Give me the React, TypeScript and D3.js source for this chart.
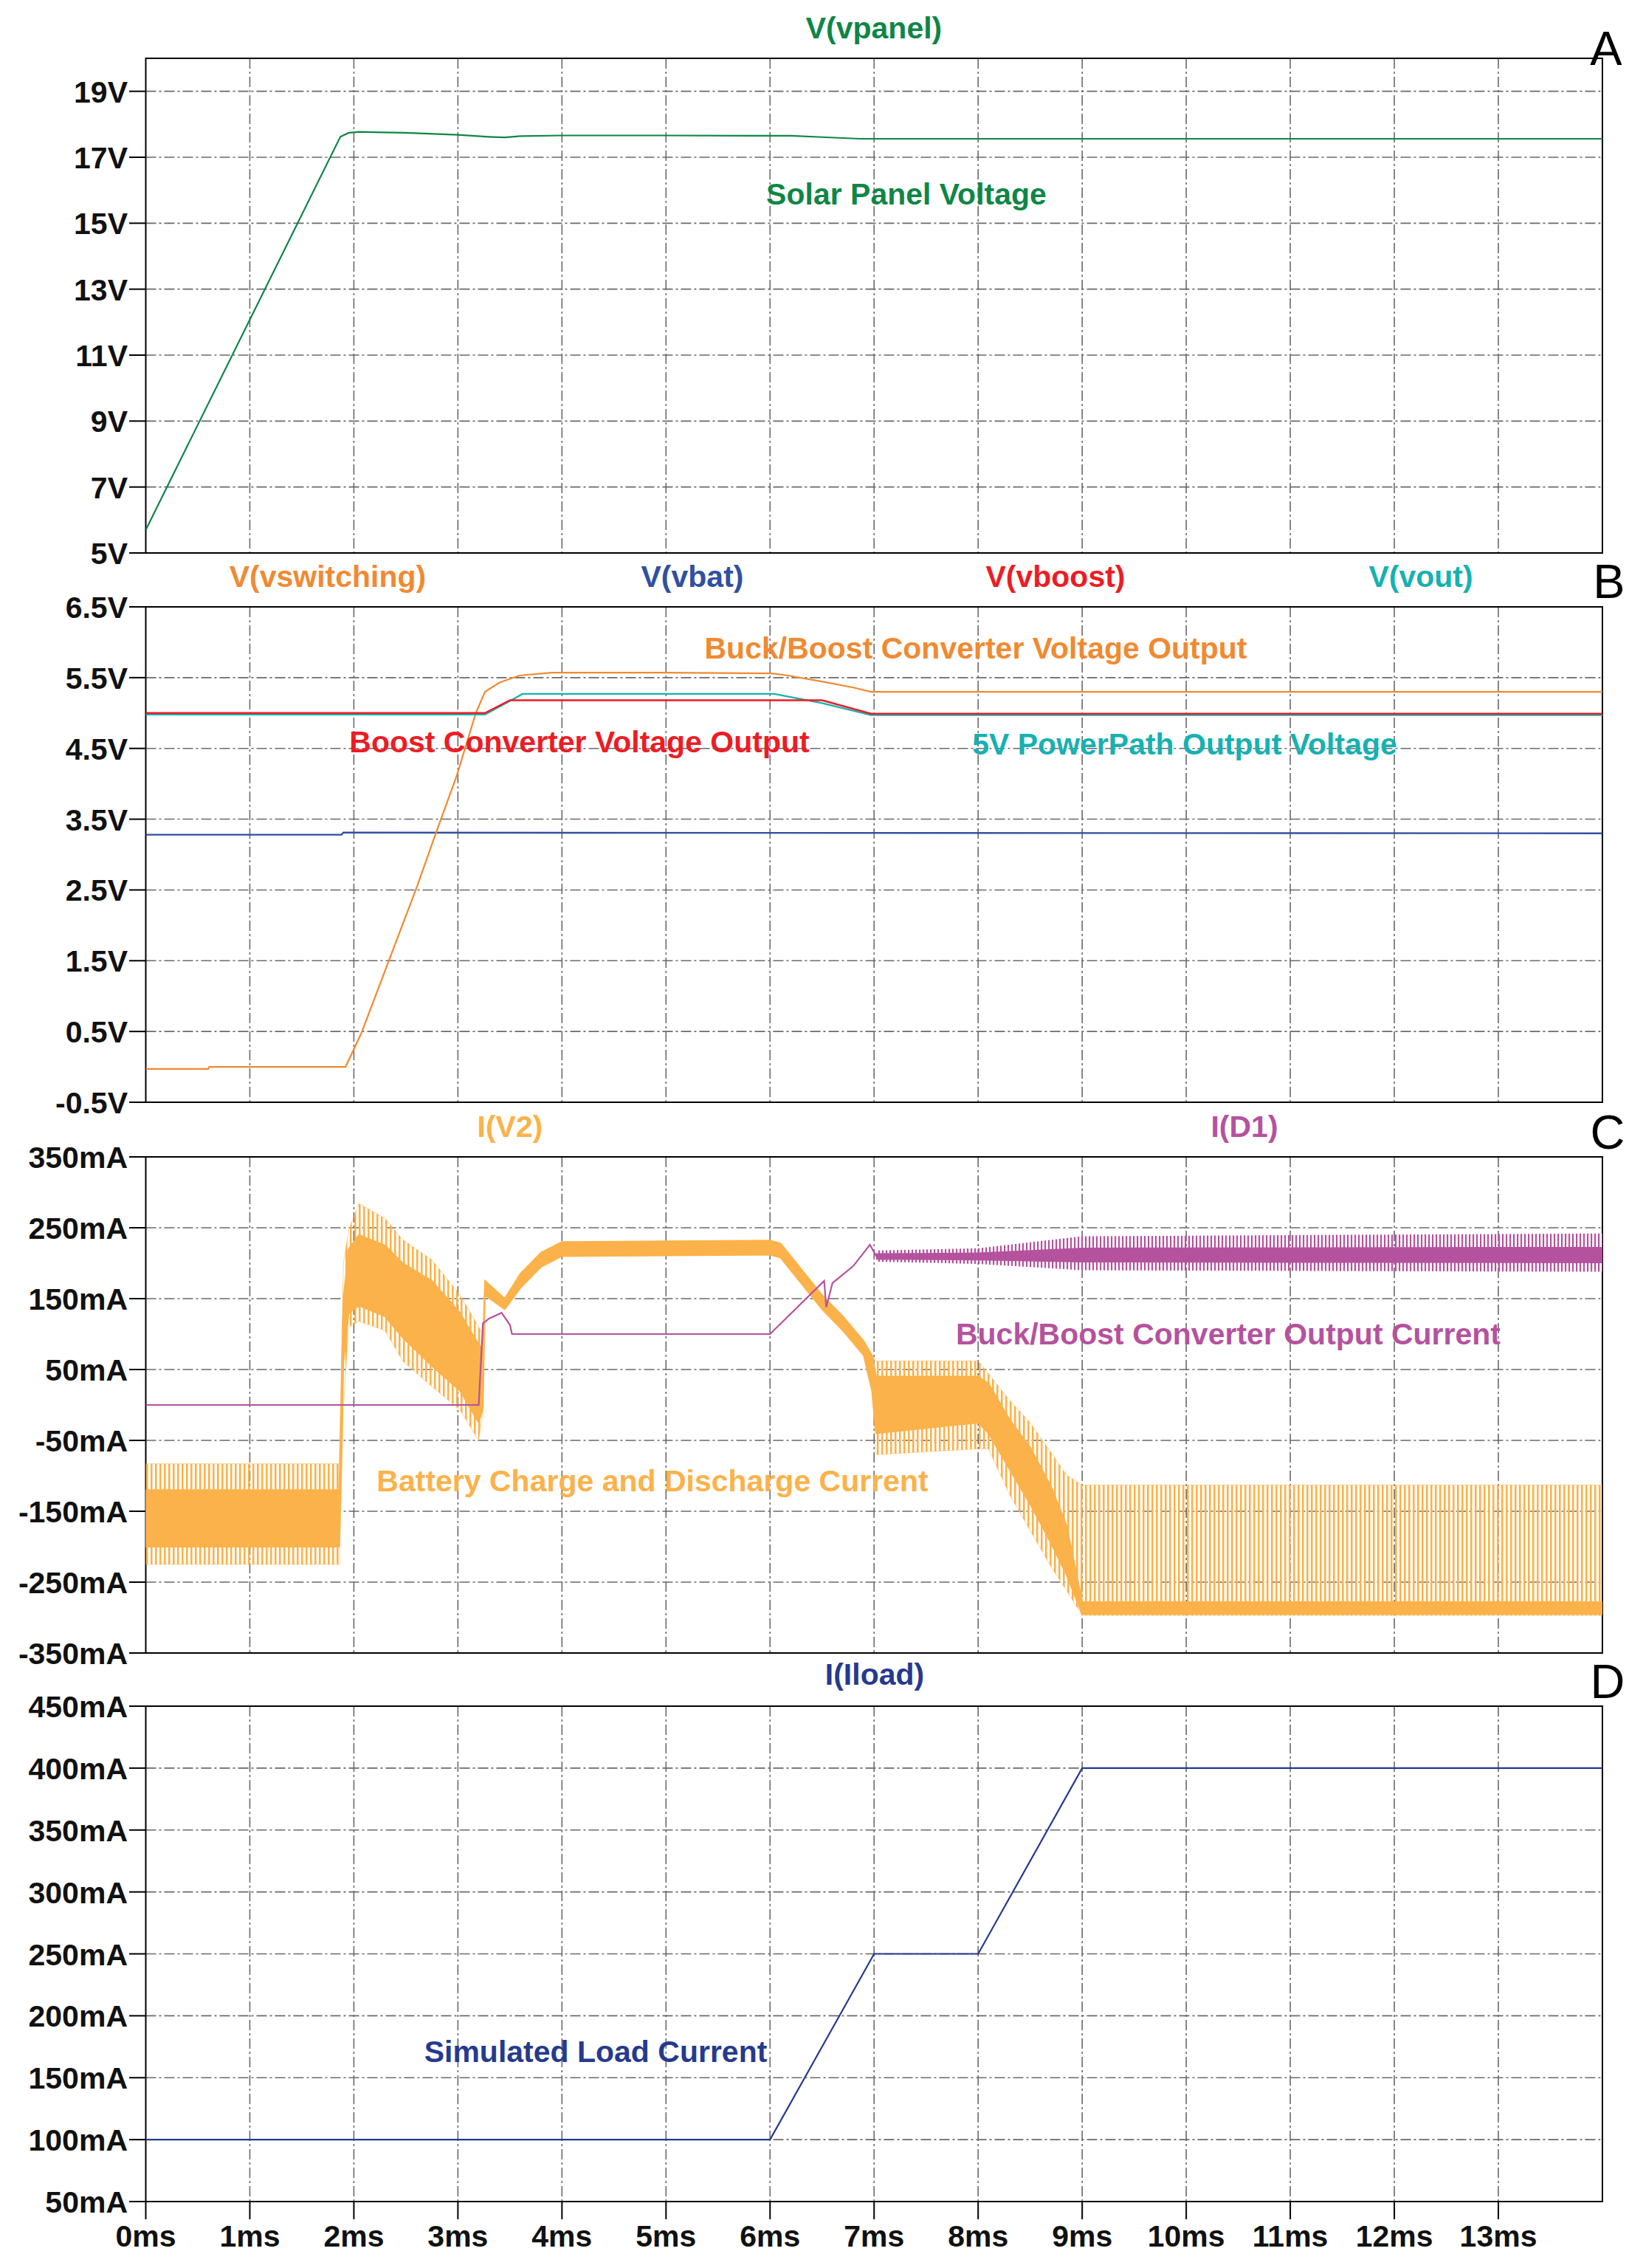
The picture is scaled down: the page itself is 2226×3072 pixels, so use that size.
import React, { useEffect } from 'react';
import * as d3 from 'd3';

// time axis (ms)
const msTicks = [0, 1, 2, 3, 4, 5, 6, 7, 8, 9, 10, 11, 12, 13];

// y ticks for each pane
const ticksA = [5, 7, 9, 11, 13, 15, 17, 19];
const ticksB = [-0.5, 0.5, 1.5, 2.5, 3.5, 4.5, 5.5, 6.5];
const ticksC = [-350, -250, -150, -50, 50, 150, 250, 350];
const ticksD = [50, 100, 150, 200, 250, 300, 350, 400, 450];

// A: V(vpanel)
const vpanelT = [0, 1.87, 1.95, 2.05, 2.5, 3.0, 3.3, 3.45, 3.6, 4.0, 5.0, 6.2, 6.5, 6.87, 14];
const vpanelV = [5.7, 17.62, 17.74, 17.77, 17.74, 17.68, 17.62, 17.6, 17.64, 17.66, 17.66, 17.65, 17.61, 17.56, 17.56];

// B: voltages
const vswT = [0, 0.6, 0.61, 1.92, 2.07, 2.61, 2.79, 2.99, 3.17, 3.26, 3.4, 3.59, 3.9, 5.0, 6.02, 6.17, 6.48, 6.8, 6.97, 14];
const vswV = [-0.03, -0.03, 0, 0, 0.47, 2.56, 3.31, 4.12, 4.99, 5.3, 5.43, 5.53, 5.57, 5.57, 5.56, 5.53, 5.45, 5.36, 5.3, 5.3];
const vbatT = [0, 1.88, 1.9, 14];
const vbatV = [3.28, 3.28, 3.31, 3.3];
const vboostT = [0, 3.26, 3.5, 6.5, 6.97, 14];
const vboostV = [5.0, 5.0, 5.18, 5.18, 4.99, 4.99];
const voutT = [0, 3.26, 3.5, 3.62, 6.04, 6.5, 6.97, 14];
const voutV = [4.98, 4.98, 5.17, 5.27, 5.27, 5.14, 4.97, 4.97];

// C: I(V2) battery current envelope and dense core (mA)
const iv2T = [0, 1.86, 1.9, 1.95, 2.05, 2.3, 2.47, 2.75, 3.02, 3.2, 3.24, 3.26, 3.45, 3.6, 3.8, 4.0, 6.0, 6.1, 6.5, 6.7, 6.9, 6.98, 7.02, 8.0, 8.1, 8.3, 8.5, 8.7, 8.85, 9.0, 14];
const iv2Hi = [-83, -83, 200, 247, 284, 263, 233, 205, 155, 110, 100, 175, 150, 185, 215, 230, 232, 228, 155, 125, 90, 70, 62, 62, 44, 7, -25, -67, -99, -113, -113];
const iv2Lo = [-225, -225, 0, 110, 118, 105, 62, 26, -7, -50, -10, 155, 135, 165, 195, 210, 212, 208, 135, 105, 70, 20, -70, -62, -62, -126, -177, -228, -262, -297, -297];
const iv2CoreHi = [-120, -120, 150, 220, 240, 225, 200, 175, 130, 85, 80, 175, 150, 185, 215, 230, 232, 228, 155, 125, 90, 70, 40, 40, 30, -20, -60, -115, -170, -278, -278];
const iv2CoreLo = [-200, -200, 60, 130, 140, 125, 95, 55, 20, -25, -5, 155, 135, 165, 195, 210, 212, 208, 135, 105, 70, 20, -40, -25, -40, -90, -140, -195, -240, -295, -295];

// C: I(D1) buck/boost output current (mA)
const id1T = [0, 3.2, 3.24, 3.3, 3.42, 3.5, 3.52, 6.0, 6.52, 6.54, 6.6, 6.8, 6.96, 7.02, 8.0, 9.0, 14];
const id1V = [0, 0, 115, 122, 130, 113, 100, 100, 175, 138, 172, 196, 226, 210, 210, 213, 213];
const id1BandT = [7.02, 8.0, 9.0, 14];
const id1BandHi = [218, 221, 238, 242];
const id1BandLo = [202, 199, 190, 188];
const id1CoreHi = [214, 215, 222, 223];
const id1CoreLo = [205, 204, 201, 200];

// D: I(Iload) (mA)
const iloadT = [0, 6, 7, 8, 9, 14];
const iloadV = [100, 100, 250, 250, 400, 400];

const FONT = '"Liberation Sans", Arial, Helvetica, sans-serif';
const GREEN = '#0f8646';
const ORANGE = '#f08a32';
const BLUE = '#3050a0';
const RED = '#ed1c24';
const TEAL = '#17b1b1';
const AMBER = '#fbb24a';
const MAGENTA = '#b5529e';
const NAVY = '#253a8e';
const GRID = '#6a6a6a';

const W = 2226;
const H = 3072;
const x = d3.scaleLinear().domain([0, 14]).range([197.5, 2171]);

type Pane = {
  id: string;
  top: number;
  bottom: number;
  domain: [number, number];
  ticks: number[];
  fmt: (v: number) => string;
  letter: string;
  letterY: number;
  letterX: number;
};

const panes: Pane[] = [
  { id: 'A', top: 79, bottom: 749, domain: [5, 20], ticks: ticksA, fmt: v => `${v}V`, letter: 'A', letterY: 88, letterX: 2176 },
  { id: 'B', top: 822, bottom: 1493, domain: [-0.5, 6.5], ticks: ticksB, fmt: v => `${v}V`, letter: 'B', letterY: 810, letterX: 2180 },
  { id: 'C', top: 1567, bottom: 2239, domain: [-350, 350], ticks: ticksC, fmt: v => `${v}mA`, letter: 'C', letterY: 1556, letterX: 2178 },
  { id: 'D', top: 2311, bottom: 2982, domain: [50, 450], ticks: ticksD, fmt: v => `${v}mA`, letter: 'D', letterY: 2300, letterX: 2178 },
];

const yOf = (p: Pane) => d3.scaleLinear().domain(p.domain).range([p.bottom, p.top]);

const linePath = (t: number[], v: number[], y: d3.ScaleLinear<number, number>) =>
  d3.line<number>().x((_, i) => x(t[i])).y(d => y(d))(v) || '';

const bandPath = (t: number[], hi: number[], lo: number[], y: d3.ScaleLinear<number, number>) =>
  d3.area<number>().x((_, i) => x(t[i])).y1(d => y(d)).y0((_, i) => y(lo[i]))(hi) || '';

const Label: React.FC<{ x: number; y: number; color: string; text: string; anchor?: string; size?: number; weight?: string }> =
  ({ x, y, color, text, anchor = 'middle', size = 41, weight = 'bold' }) => (
    <text x={x} y={y} fill={color} textAnchor={anchor as any} fontFamily={FONT} fontSize={size} fontWeight={weight}>{text}</text>
  );

const Frame: React.FC<{ p: Pane }> = ({ p }) => {
  const y = yOf(p);
  const [x0, x1] = x.range();
  return (
    <g>
      {msTicks.filter(m => m > 0).map(m => (
        <line key={`v${m}`} x1={x(m)} x2={x(m)} y1={p.top} y2={p.bottom} stroke={GRID} strokeWidth={1.6} strokeDasharray="14 4 3 4" />
      ))}
      {p.ticks.filter(t => y(t) > p.top + 1 && y(t) < p.bottom - 1).map(t => (
        <line key={`h${t}`} x1={x0} x2={x1} y1={y(t)} y2={y(t)} stroke={GRID} strokeWidth={1.6} strokeDasharray="14 4 3 4" />
      ))}
      {p.ticks.map(t => (
        <g key={`t${t}`}>
          <line x1={175} x2={x0} y1={y(t)} y2={y(t)} stroke="#000" strokeWidth={2} />
          <Label x={173} y={y(t) + 15} color="#111" text={p.fmt(t)} anchor="end" />
        </g>
      ))}
      <rect x={x0} y={p.top} width={x1 - x0} height={p.bottom - p.top} fill="none" stroke="#000" strokeWidth={2} />
      <Label x={p.letterX} y={p.letterY} color="#000" text={p.letter} size={65} weight="normal" />
    </g>
  );
};

const App: React.FC = () => {
  useEffect(() => {
    document.body.style.margin = '0';
  }, []);

  const [pA, pB, pC, pD] = panes;
  const yA = yOf(pA);
  const yB = yOf(pB);
  const yC = yOf(pC);
  const yD = yOf(pD);
  const [x0, x1] = x.range();

  return (
    <svg width={W} height={H} viewBox={`0 0 ${W} ${H}`} style={{ display: 'block', background: '#fff' }}>
      <defs>
        {panes.map(p => (
          <clipPath key={p.id} id={`clip${p.id}`}>
            <rect x={x0} y={p.top} width={x1 - x0} height={p.bottom - p.top} />
          </clipPath>
        ))}
        <pattern id="stripeAmber" patternUnits="userSpaceOnUse" width={6} height={10}>
          <rect x={0} y={0} width={2.6} height={10} fill={AMBER} />
        </pattern>
        <pattern id="stripeMagenta" patternUnits="userSpaceOnUse" width={5} height={10}>
          <rect x={0} y={0} width={2.2} height={10} fill={MAGENTA} />
        </pattern>
      </defs>

      {panes.map(p => <Frame key={p.id} p={p} />)}

      {/* pane A */}
      <Label x={1184} y={52} color={GREEN} text="V(vpanel)" />
      <g clipPath="url(#clipA)">
        <path d={linePath(vpanelT, vpanelV, yA)} fill="none" stroke={GREEN} strokeWidth={2.2} />
      </g>
      <Label x={1228} y={277} color={GREEN} text="Solar Panel Voltage" />

      {/* pane B */}
      <Label x={444} y={795} color={ORANGE} text="V(vswitching)" />
      <Label x={938} y={795} color={BLUE} text="V(vbat)" />
      <Label x={1430} y={795} color={RED} text="V(vboost)" />
      <Label x={1925} y={795} color={TEAL} text="V(vout)" />
      <g clipPath="url(#clipB)">
        <path d={linePath(vbatT, vbatV, yB)} fill="none" stroke={BLUE} strokeWidth={2.4} />
        <path d={linePath(vswT, vswV, yB)} fill="none" stroke={ORANGE} strokeWidth={2.2} />
        <path d={linePath(voutT, voutV, yB)} fill="none" stroke={TEAL} strokeWidth={2.4} />
        <path d={linePath(vboostT, vboostV, yB)} fill="none" stroke={RED} strokeWidth={2.4} />
      </g>
      <Label x={1322} y={892} color={ORANGE} text="Buck/Boost Converter Voltage Output" />
      <Label x={785} y={1019} color={RED} text="Boost Converter Voltage Output" />
      <Label x={1605} y={1022} color={TEAL} text="5V PowerPath Output Voltage" />

      {/* pane C */}
      <Label x={691} y={1540} color={AMBER} text="I(V2)" />
      <Label x={1686} y={1540} color={MAGENTA} text="I(D1)" />
      <g clipPath="url(#clipC)">
        <path d={bandPath(iv2T, iv2Hi, iv2Lo, yC)} fill="url(#stripeAmber)" stroke={AMBER} strokeWidth={1} strokeOpacity={0.5} />
        <path d={bandPath(iv2T, iv2CoreHi, iv2CoreLo, yC)} fill={AMBER} stroke={AMBER} strokeWidth={2} />
        <path d={bandPath(id1BandT, id1BandHi, id1BandLo, yC)} fill="url(#stripeMagenta)" />
        <path d={bandPath(id1BandT, id1CoreHi, id1CoreLo, yC)} fill={MAGENTA} />
        <path d={linePath(id1T, id1V, yC)} fill="none" stroke={MAGENTA} strokeWidth={2.2} />
      </g>
      <Label x={1664} y={1821} color={MAGENTA} text="Buck/Boost Converter Output Current" />
      <Label x={884} y={2020} color={AMBER} text="Battery Charge and Discharge Current" />

      {/* pane D */}
      <Label x={1185} y={2282} color={NAVY} text="I(Iload)" />
      <g clipPath="url(#clipD)">
        <path d={linePath(iloadT, iloadV, yD)} fill="none" stroke={NAVY} strokeWidth={2.2} />
      </g>
      <Label x={807} y={2793} color={NAVY} text="Simulated Load Current" />

      {/* time axis */}
      {msTicks.map(m => (
        <g key={`x${m}`}>
          <line x1={x(m)} x2={x(m)} y1={pD.bottom} y2={3006} stroke="#000" strokeWidth={2} />
          <Label x={x(m)} y={3043} color="#111" text={`${m}ms`} />
        </g>
      ))}
    </svg>
  );
};

export default App;
